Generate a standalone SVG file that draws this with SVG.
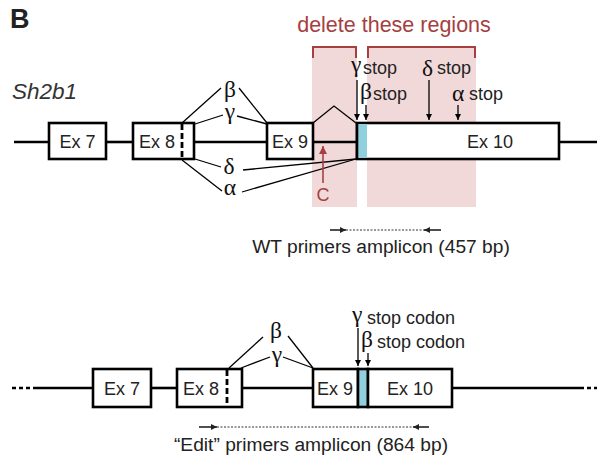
<svg xmlns="http://www.w3.org/2000/svg" width="597" height="464" viewBox="0 0 597 464">
<defs>
<style>
.t{font-family:"Liberation Sans",Arial,sans-serif;fill:#222}
.g{font-family:"Liberation Serif","Times New Roman",serif;fill:#111;font-size:23.5px}
.box{fill:#fff;stroke:#000;stroke-width:2.6}
.blue{fill:#8fcfde;stroke:#000;stroke-width:2.6}
.main{stroke:#000;stroke-width:2.6;fill:none}
.thin{stroke:#000;stroke-width:1.3;fill:none}
.pink{fill:#f2d9d9}
.dash{stroke:#000;stroke-width:2.8;stroke-dasharray:6,3}
.dot{stroke:#333;stroke-width:1;stroke-dasharray:2,1.5}
</style>
<marker id="ah" viewBox="0 0 10 10" refX="10" refY="5" markerWidth="6" markerHeight="6" orient="auto" markerUnits="userSpaceOnUse"><path d="M0,0 L10,5 L0,10 z" fill="#000"/></marker>
<marker id="ahr" viewBox="0 0 10 10" refX="10" refY="5" markerWidth="8" markerHeight="8" orient="auto" markerUnits="userSpaceOnUse"><path d="M0,0 L10,5 L0,10 z" fill="#a5403f"/></marker>
<marker id="pa" viewBox="0 0 10 10" refX="10" refY="5" markerWidth="7" markerHeight="6" orient="auto" markerUnits="userSpaceOnUse"><path d="M0,0 L10,5 L0,10 z" fill="#222"/></marker>
</defs>

<text x="10" y="28" class="t" style="font-weight:bold;font-size:27px;fill:#222">B</text>

<g id="delete-regions">
<rect class="pink" x="312" y="46" width="45" height="161"/>
<rect class="pink" x="367" y="46" width="109" height="161"/>
<path d="M313,58 V47 H356 V58 M368,58 V47 H475 V58" stroke="#a5403f" stroke-width="2" fill="none"/>
<text x="394" y="32" text-anchor="middle" class="t" style="font-size:21.5px;fill:#a5403f">delete these regions</text>
</g>

<text x="12" y="99" class="t" style="font-size:22.5px;font-style:italic;fill:#333">Sh2b1</text>

<g id="connectors-top">
<line class="main" x1="14" y1="142" x2="49" y2="142"/>
<line class="main" x1="106" y1="142" x2="133" y2="142"/>
<line class="main" x1="194" y1="142" x2="267" y2="142"/>
<line class="main" x1="313" y1="142" x2="357" y2="142"/>
<line class="main" x1="559" y1="142" x2="597" y2="142"/>
<polyline class="thin" points="313,123 334,106 356,123"/>
<line class="thin" x1="182" y1="123" x2="221" y2="88"/>
<line class="thin" x1="239" y1="88" x2="267" y2="123"/>
<line class="thin" x1="195" y1="124" x2="223" y2="115"/>
<line class="thin" x1="237" y1="116" x2="267" y2="124"/>
<line class="thin" x1="195" y1="159" x2="221" y2="167"/>
<line class="thin" x1="243" y1="170" x2="356" y2="159"/>
<line class="thin" x1="182" y1="160" x2="222" y2="191"/>
<line class="thin" x1="242" y1="192" x2="356" y2="159"/>
<line stroke="#a5403f" stroke-width="1.6" x1="323" y1="183" x2="323" y2="146" marker-end="url(#ahr)"/>
<line class="thin" x1="357" y1="80" x2="357" y2="120" marker-end="url(#ah)"/>
<line class="thin" x1="366" y1="105" x2="366" y2="120" marker-end="url(#ah)"/>
<line class="thin" x1="429" y1="80" x2="429" y2="120" marker-end="url(#ah)"/>
<line class="thin" x1="458" y1="105" x2="458" y2="120" marker-end="url(#ah)"/>
</g>

<text x="230" y="97" text-anchor="middle" class="g">β</text>
<text x="230" y="119" text-anchor="middle" class="g">γ</text>
<text x="229" y="174" text-anchor="middle" class="g">δ</text>
<text x="230" y="195" text-anchor="middle" class="g">α</text>
<text x="323" y="201" text-anchor="middle" class="t" style="font-size:18px;fill:#a5403f">C</text>

<text x="351" y="72" class="g">γ</text>
<text x="363" y="74" class="t" style="font-size:18px">stop</text>
<text x="360" y="99" class="g">β</text>
<text x="373" y="100" class="t" style="font-size:18px">stop</text>
<text x="422" y="76" class="g">δ</text>
<text x="437" y="74" class="t" style="font-size:18px">stop</text>
<text x="452" y="101" class="g">α</text>
<text x="469" y="100" class="t" style="font-size:18px">stop</text>

<g id="top-ex7"><rect class="box" x="49" y="123" width="57" height="36"/><text x="77.5" y="148" text-anchor="middle" class="t" style="font-size:18px">Ex 7</text></g>
<g id="top-ex8"><rect class="box" x="133" y="123" width="61" height="36"/><line class="dash" x1="182" y1="124" x2="182" y2="158"/><text x="157" y="148" text-anchor="middle" class="t" style="font-size:18px">Ex 8</text></g>
<g id="top-ex9"><rect class="box" x="267" y="123" width="46" height="36"/><text x="290" y="148" text-anchor="middle" class="t" style="font-size:18px">Ex 9</text></g>
<g id="top-ex10"><rect class="box" x="357" y="123" width="202" height="36"/><rect class="blue" x="357" y="124" width="10" height="34" style="stroke:none"/><line class="main" x1="357" y1="123" x2="357" y2="159"/><text x="490" y="148" text-anchor="middle" class="t" style="font-size:18px">Ex 10</text></g>

<g id="wt-primers">
<line stroke="#222" stroke-width="1.6" x1="330" y1="230" x2="346" y2="230" marker-end="url(#pa)"/>
<line class="dot" x1="346" y1="230" x2="424" y2="230"/>
<line stroke="#222" stroke-width="1.6" x1="441" y1="230" x2="424" y2="230" marker-end="url(#pa)"/>
<text x="381" y="253" text-anchor="middle" class="t" style="font-size:19.2px">WT primers amplicon (457 bp)</text>
</g>

<g id="connectors-bottom">
<line class="main" x1="12" y1="388" x2="35" y2="388" style="stroke-dasharray:4,3"/>
<line class="main" x1="35" y1="388" x2="93" y2="388"/>
<line class="main" x1="151" y1="388" x2="177" y2="388"/>
<line class="main" x1="242" y1="388" x2="313" y2="388"/>
<line class="main" x1="452" y1="388" x2="580" y2="388"/>
<line class="main" x1="580" y1="388" x2="597" y2="388" style="stroke-dasharray:4,3"/>
<line class="thin" x1="229" y1="368" x2="263" y2="337"/>
<line class="thin" x1="288" y1="336" x2="313" y2="368"/>
<line class="thin" x1="241" y1="368" x2="270" y2="357"/>
<line class="thin" x1="283" y1="357" x2="313" y2="368"/>
<line class="thin" x1="358" y1="328" x2="358" y2="366" marker-end="url(#ah)"/>
<line class="thin" x1="368" y1="353" x2="368" y2="366" marker-end="url(#ah)"/>
</g>

<text x="276" y="338" text-anchor="middle" class="g">β</text>
<text x="277" y="362" text-anchor="middle" class="g">γ</text>
<text x="352" y="322" class="g">γ</text>
<text x="367" y="324" class="t" style="font-size:18px">stop codon</text>
<text x="361" y="347" class="g">β</text>
<text x="377" y="348" class="t" style="font-size:18px">stop codon</text>

<g id="bot-ex7"><rect class="box" x="93" y="369" width="58" height="38"/><text x="122" y="395" text-anchor="middle" class="t" style="font-size:18px">Ex 7</text></g>
<g id="bot-ex8"><rect class="box" x="177" y="369" width="65" height="38"/><line class="dash" x1="227" y1="370" x2="227" y2="406"/><text x="201" y="395" text-anchor="middle" class="t" style="font-size:18px">Ex 8</text></g>
<g id="bot-ex9"><rect class="box" x="313" y="369" width="45" height="38"/><text x="335" y="395" text-anchor="middle" class="t" style="font-size:18px">Ex 9</text></g>
<g id="bot-blue"><rect class="blue" x="358" y="369" width="10" height="38"/></g>
<g id="bot-ex10"><rect class="box" x="368" y="369" width="84" height="38"/><text x="410" y="395" text-anchor="middle" class="t" style="font-size:18px">Ex 10</text></g>

<g id="edit-primers">
<line stroke="#222" stroke-width="1.6" x1="199" y1="427" x2="217" y2="427" marker-end="url(#pa)"/>
<line class="dot" x1="217" y1="427" x2="413" y2="427"/>
<line stroke="#222" stroke-width="1.6" x1="429" y1="427" x2="413" y2="427" marker-end="url(#pa)"/>
<text x="311" y="451" text-anchor="middle" class="t" style="font-size:19.2px">“Edit” primers amplicon (864 bp)</text>
</g>
</svg>
